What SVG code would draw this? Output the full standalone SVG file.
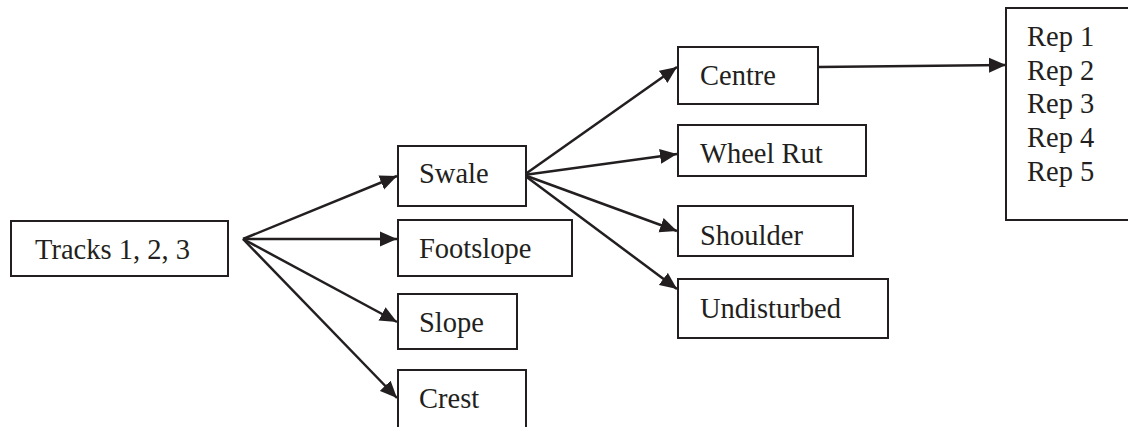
<svg xmlns="http://www.w3.org/2000/svg" width="1128" height="427" viewBox="0 0 1128 427">
<style>
.box{fill:#fff;stroke:#231f20;stroke-width:2}
.lbl{font-family:"Liberation Serif","Times New Roman",serif;font-size:28.5px;fill:#231f20}
.con line{stroke:#231f20;stroke-width:2.5;fill:none}
</style>
<defs>
<marker id="ah" markerUnits="userSpaceOnUse" markerWidth="19" markerHeight="16" refX="17" refY="8" orient="auto">
<path d="M0,0.5 L17,8 L0,15.5 Z" fill="#231f20"/>
</marker>
</defs>
<rect width="1128" height="427" fill="#fff"/>
<g class="con">
<line x1="243" y1="239" x2="397" y2="176" marker-end="url(#ah)"/>
<line x1="243" y1="239" x2="397" y2="239" marker-end="url(#ah)"/>
<line x1="243" y1="239" x2="397" y2="322" marker-end="url(#ah)"/>
<line x1="243" y1="239" x2="397" y2="398" marker-end="url(#ah)"/>
<line x1="524" y1="175" x2="677" y2="67" marker-end="url(#ah)"/>
<line x1="524" y1="175" x2="677" y2="154" marker-end="url(#ah)"/>
<line x1="524" y1="175" x2="677" y2="231" marker-end="url(#ah)"/>
<line x1="524" y1="175" x2="677" y2="289" marker-end="url(#ah)"/>
<line x1="818" y1="67" x2="1006" y2="65" marker-end="url(#ah)"/>
</g>
<g id="tracks"><rect class="box" x="11" y="221" width="217" height="55"/><text class="lbl" x="35" y="259">Tracks 1, 2, 3</text></g>
<g id="swale"><rect class="box" x="398" y="146" width="128" height="60"/><text class="lbl" x="419" y="183">Swale</text></g>
<g id="footslope"><rect class="box" x="398" y="220" width="174" height="56"/><text class="lbl" x="419" y="258">Footslope</text></g>
<g id="slope"><rect class="box" x="398" y="294" width="119" height="55"/><text class="lbl" x="419" y="332">Slope</text></g>
<g id="crest"><rect class="box" x="398" y="370" width="128" height="70"/><text class="lbl" x="419" y="408">Crest</text></g>
<g id="centre"><rect class="box" x="678" y="47" width="140" height="57"/><text class="lbl" x="700" y="85">Centre</text></g>
<g id="wheelrut"><rect class="box" x="678" y="125" width="188" height="51"/><text class="lbl" x="700" y="163">Wheel Rut</text></g>
<g id="shoulder"><rect class="box" x="678" y="206" width="175" height="50"/><text class="lbl" x="700" y="245">Shoulder</text></g>
<g id="undisturbed"><rect class="box" x="678" y="279" width="210" height="59"/><text class="lbl" x="700" y="318">Undisturbed</text></g>
<g id="reps"><rect class="box" x="1006" y="8" width="140" height="212"/>
<text class="lbl" x="1027" y="46">Rep 1</text>
<text class="lbl" x="1027" y="79.5">Rep 2</text>
<text class="lbl" x="1027" y="113">Rep 3</text>
<text class="lbl" x="1027" y="146.5">Rep 4</text>
<text class="lbl" x="1027" y="181">Rep 5</text></g>
</svg>
